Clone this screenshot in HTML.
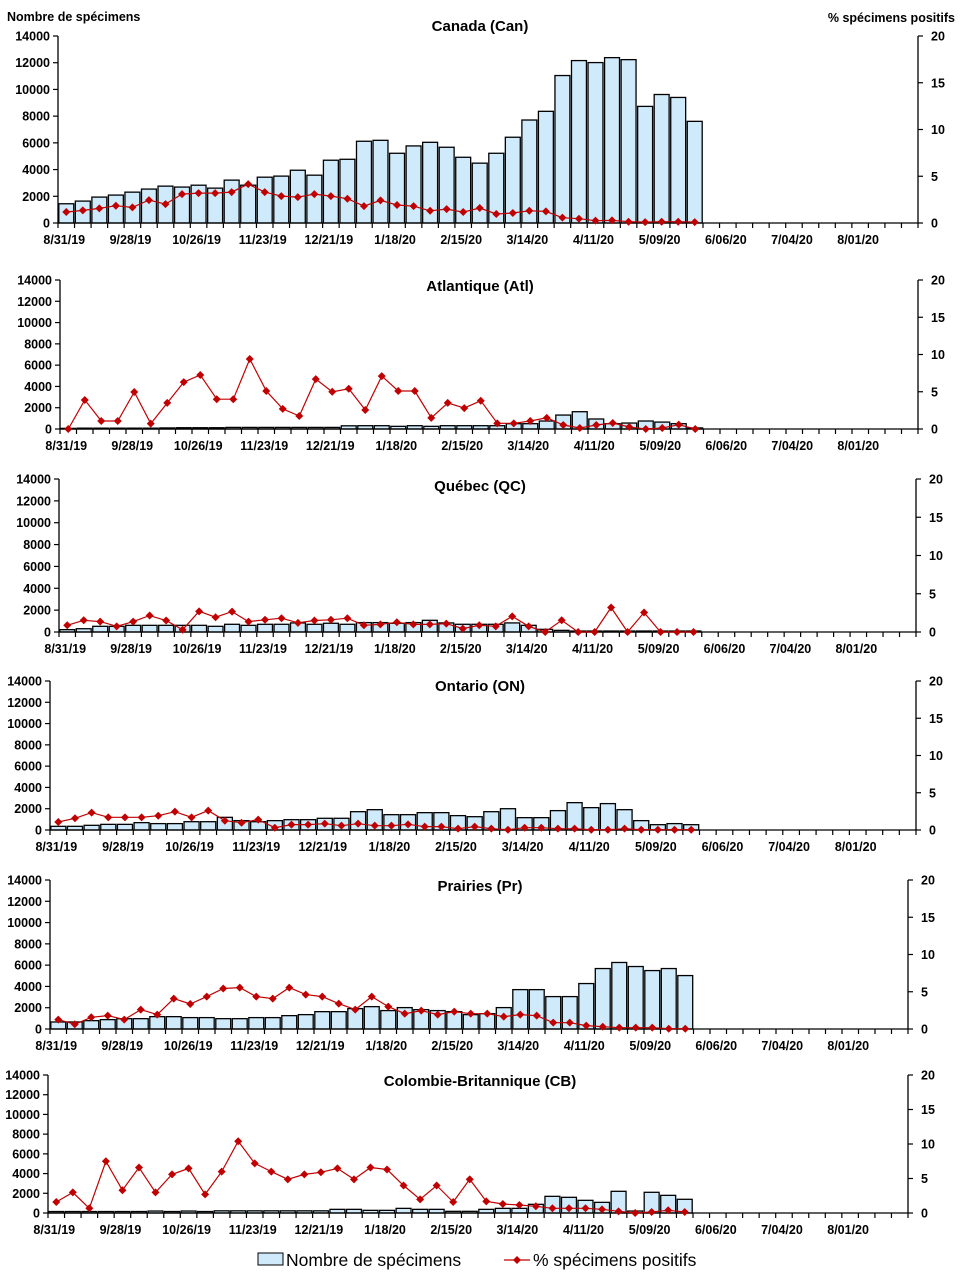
<!DOCTYPE html>
<html><head><meta charset="utf-8">
<style>
body{margin:0;background:#fff;}
svg{display:block;font-family:"Liberation Sans",Arial,sans-serif;}
</style></head>
<body>
<svg id="chart" width="961" height="1283" viewBox="0 0 961 1283" xmlns="http://www.w3.org/2000/svg">
<text x="7" y="21" font-size="12.5" font-weight="bold">Nombre de spécimens</text>
<text x="955" y="22" font-size="12.5" font-weight="bold" text-anchor="end">% spécimens positifs</text>
<g>
<rect x="258" y="1253" width="25" height="12" fill="#cfeafb" stroke="#000" stroke-width="1"/>
<text x="286" y="1266" font-size="17.5">Nombre de spécimens</text>
<line x1="504" y1="1260" x2="530" y2="1260" stroke="#c00000" stroke-width="1.3"/>
<path d="M517,1256 L521,1260 L517,1264 L513,1260Z" fill="#c00000"/>
<text x="533" y="1266" font-size="17.5">% spécimens positifs</text>
</g>
</svg>
<script>
const weekLabels = ["8/31/19","9/28/19","10/26/19","11/23/19","12/21/19","1/18/20","2/15/20","3/14/20","4/11/20","5/09/20","6/06/20","7/04/20","8/01/20"];
const leftTicks = [0,2000,4000,6000,8000,10000,12000,14000];
const rightTicks = [0,5,10,15,20];

const canBars = [1440,1640,1940,2090,2310,2540,2760,2690,2830,2610,3210,2830,3430,3510,3950,3580,4700,4770,6120,6190,5220,5770,6040,5670,4920,4480,5220,6420,7710,8360,11040,12160,12010,12380,12230,8730,9620,9400,7610];
const canPct = [1.17,1.35,1.56,1.85,1.67,2.45,2.02,3.09,3.2,3.2,3.3,4.16,3.3,2.88,2.77,3.09,2.88,2.6,1.81,2.42,1.92,1.8,1.31,1.49,1.17,1.6,0.96,1.07,1.31,1.24,0.57,0.46,0.25,0.28,0.14,0.1,0.14,0.14,0.1];

const atlBars = [60,80,80,80,80,80,100,120,120,120,150,150,150,150,150,150,150,300,310,310,250,310,250,310,310,310,310,500,500,750,1310,1625,940,500,560,750,650,500,100];
const atlPct = [0,3.9,1.07,1.07,4.97,0.72,3.5,6.3,7.25,4.0,4.0,9.4,5.1,2.7,1.75,6.7,5.0,5.4,2.55,7.1,5.1,5.1,1.5,3.5,2.8,3.8,0.76,0.76,1.07,1.5,0.54,0.13,0.54,0.8,0.27,0,0.13,0.58,0];

const qcBars = [215,300,520,520,610,610,610,610,610,520,705,610,705,705,830,705,800,705,860,860,800,860,1070,830,705,705,705,830,610,245,150,90,90,90,90,90,90,90,90];
const qcPct = [0.88,1.53,1.36,0.74,1.36,2.15,1.5,0.3,2.7,1.93,2.67,1.36,1.6,1.8,1.2,1.5,1.6,1.8,0.88,1.0,1.27,1.0,1.0,1.1,0.44,0.88,0.74,2.05,0.74,0,1.53,0,0,3.2,0,2.55,0,0,0];

const onBars = [345,345,440,530,530,690,600,600,780,780,1190,880,780,880,970,970,1100,1100,1720,1910,1440,1440,1630,1630,1350,1250,1720,2000,1160,1160,1820,2570,2100,2480,1910,880,500,600,500];
const onPct = [1.07,1.57,2.33,1.7,1.7,1.7,1.92,2.46,1.7,2.6,1.25,0.98,1.39,0.31,0.72,0.72,0.85,0.58,0.85,0.58,0.58,0.76,0.45,0.45,0.18,0.45,0.18,0.04,0.31,0.31,0.18,0.18,0.04,0.04,0.18,0.04,0.04,0.04,0.04];

const prBars = [660,660,785,880,970,970,1160,1160,1070,1070,970,970,1070,1070,1255,1350,1630,1630,1915,2100,1730,2010,1820,1730,1630,1350,1440,2010,3700,3700,3045,3045,4270,5680,6250,5870,5490,5680,5020];
const prPct = [1.26,0.63,1.57,1.8,1.26,2.6,1.93,4.08,3.36,4.35,5.43,5.56,4.35,4.08,5.56,4.62,4.35,3.4,2.6,4.35,3.0,2.06,2.47,1.93,2.33,2.06,2.06,1.66,1.93,1.79,0.85,0.85,0.45,0.31,0.18,0.18,0.18,0.04,0.04];

const cbBars = [150,150,150,150,150,150,200,150,200,150,220,220,220,220,220,220,220,370,370,270,270,470,370,370,170,170,370,470,470,880,1690,1590,1285,1080,2200,200,2100,1790,1390];
const cbPct = [1.59,2.99,0.68,7.5,3.3,6.6,2.99,5.6,6.47,2.7,6.0,10.4,7.2,6.0,4.88,5.6,5.9,6.47,4.88,6.6,6.3,3.99,1.98,3.99,1.59,4.88,1.69,1.3,1.16,0.97,0.68,0.68,0.68,0.53,0.24,0,0.14,0.39,0.14];

const panels = [
 {id:"canada", title:"Canada (Can)", bars:canBars, pct:canPct, left:58, right:918, top:36, bottom:223, ty:31},
 {id:"atlantique", title:"Atlantique (Atl)", bars:atlBars, pct:atlPct, left:60, right:918, top:280, bottom:429, ty:291},
 {id:"quebec", title:"Québec (QC)", bars:qcBars, pct:qcPct, left:59, right:916, top:479, bottom:632, ty:491},
 {id:"ontario", title:"Ontario (ON)", bars:onBars, pct:onPct, left:50, right:916, top:681, bottom:830, ty:691},
 {id:"prairies", title:"Prairies (Pr)", bars:prBars, pct:prPct, left:50, right:908, top:880, bottom:1029, ty:891},
 {id:"colombie-britannique", title:"Colombie-Britannique (CB)", bars:cbBars, pct:cbPct, left:48, right:908, top:1075, bottom:1213, ty:1086}
];

const NS = "http://www.w3.org/2000/svg";
const svg = document.getElementById("chart");
const SLOTS = 52;
function mk(tag, attrs, parent){
  const e = document.createElementNS(NS, tag);
  for (const k in attrs) e.setAttribute(k, attrs[k]);
  parent.appendChild(e);
  return e;
}

panels.forEach(p => {
  const g = mk("g", {}, svg);
  
  
  const slot = (p.right - p.left) / SLOTS;
  const xC = i => p.left + slot * (i + 0.5);
  const yL = v => p.bottom - v / 14000 * (p.bottom - p.top);
  const yR = v => p.bottom - v / 20 * (p.bottom - p.top);

  p.bars.forEach((v, i) => {
    const r = mk("rect", {x:p.left + slot*i + 0.8, y:yL(v), width:slot - 1.6, height:p.bottom - yL(v), fill:"#cfeafb", stroke:"#000", "stroke-width":1.3}, g);
    
    
  });

  const ax = mk("path", {d:`M${p.left},${p.top} V${p.bottom} H${p.right} V${p.top}`, fill:"none", stroke:"#000", "stroke-width":1.3}, g);
  
  

  leftTicks.forEach(v => {
    const y = yL(v);
    const l = mk("line", {x1:p.left - 5, y1:y, x2:p.left, y2:y, stroke:"#000", "stroke-width":1.2}, g);
    
    
    const tx = mk("text", {x:p.left - 8, y:y + 4.5, "font-size":12.5, "font-weight":"bold", "text-anchor":"end"}, g);
    
    
    tx.textContent = v;
  });
  rightTicks.forEach(v => {
    const y = yR(v);
    const l = mk("line", {x1:p.right, y1:y, x2:p.right + 5, y2:y, stroke:"#000", "stroke-width":1.2}, g);
    
    
    const tx = mk("text", {x:p.right + 13, y:y + 4.5, "font-size":12.5, "font-weight":"bold", "text-anchor":"start"}, g);
    
    
    tx.textContent = v;
  });
  for (let i = 0; i <= SLOTS; i++) {
    const x = p.left + slot * i;
    const l = mk("line", {x1:x, y1:p.bottom, x2:x, y2:p.bottom + 5, stroke:"#000", "stroke-width":1.2}, g);
    
    
  }
  weekLabels.forEach((lab, k) => {
    const tx = mk("text", {x:xC(k*4) - 2, y:p.bottom + 21, "font-size":12.5, "font-weight":"bold", "text-anchor":"middle"}, g);
    
    
    tx.textContent = lab;
  });

  const pts = p.pct.map((v, i) => `${xC(i).toFixed(1)},${yR(v).toFixed(1)}`).join(" ");
  const pl = mk("polyline", {points:pts, fill:"none", stroke:"#c00000", "stroke-width":1.2}, g);
  
  
  p.pct.forEach((v, i) => {
    const x = xC(i), y = yR(v);
    const m = mk("path", {d:`M${x},${y-4} L${x+4},${y} L${x},${y+4} L${x-4},${y}Z`, fill:"#c00000"}, g);
    
    
  });

  const t = mk("text", {x:480, y:p.ty, "font-size":15, "font-weight":"bold", "text-anchor":"middle"}, g);
  
  
  t.textContent = p.title;
});
</script>
</body></html>
